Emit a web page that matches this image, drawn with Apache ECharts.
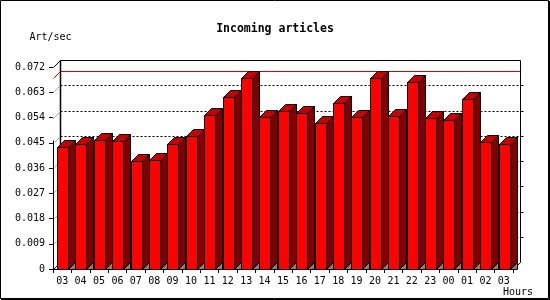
<!DOCTYPE html>
<html><head><meta charset="utf-8">
<script src="https://cdn.jsdelivr.net/npm/echarts@6/dist/echarts.min.js"></script>
<style>html,body{margin:0;padding:0;background:#fff}#c{width:550px;height:300px}</style>
</head><body><div id="c"></div>
<script>
// ---- data ----
const hours = ['03','04','05','06','07','08','09','10','11','12','13','14','15','16','17','18','19','20','21','22','23','00','01','02','03'];
const rates = [0.0434,0.0444,0.0459,0.0455,0.0384,0.0389,0.0444,0.0473,0.0548,0.0612,0.0680,0.0541,0.0562,0.0555,0.0519,0.0591,0.0541,0.0680,0.0544,0.0665,0.0537,0.0530,0.0605,0.0452,0.0444];
const yTicks = [0,0.009,0.018,0.027,0.036,0.045,0.054,0.063,0.072];
const titleText = 'Incoming articles';
const yName = 'Art/sec';
const xName = 'Hours';

// ---- style ----
const DX = 7, DY = 7;
const FONT = '"DejaVu Sans Mono", monospace';
const FRONT = '#ff0000', TOP = '#c40000', SIDE = '#800000', SHADOW = '#808080';

const chart = echarts.init(document.getElementById('c'), null, {renderer: 'canvas'});

function renderWalls(params, api) {
  const cs = params.coordSys;
  const x0 = Math.round(cs.x) + 0.5, x1 = Math.round(cs.x + cs.width) + 0.5;
  const yT = Math.round(cs.y) + 0.5, yB = Math.round(cs.y + cs.height) + 0.5;
  const ch = [];
  yTicks.forEach(function (v, k) {
    if (k === 0 || k === yTicks.length - 1) return;
    const y = Math.round(api.coord([0, v])[1]) + 0.5;
    ch.push({type: 'line', shape: {x1: x0 + DX, y1: y - DY, x2: x1 + DX, y2: y - DY},
      style: {stroke: '#000', lineWidth: 1, lineDash: [2, 2]}});
    ch.push({type: 'line', shape: {x1: x0, y1: y, x2: x0 + DX, y2: y - DY},
      style: {stroke: '#000', lineWidth: 1, lineDash: [1, 2]}});
    ch.push({type: 'line', shape: {x1: x1 + DX, y1: y - DY, x2: x1 + DX + 3, y2: y - DY},
      style: {stroke: '#000', lineWidth: 1}});
  });
  // max line
  const mx = Math.max.apply(null, rates);
  const ym = Math.round(api.coord([0, mx])[1]) + 0.5;
  ch.push({type: 'polyline', shape: {points: [[x0, ym], [x0 + DX, ym - DY], [x1 + DX, ym - DY]]},
    style: {stroke: '#e00000', lineWidth: 1, fill: null}});
  // frame
  ch.push({type: 'polyline', shape: {points: [[x0, yT], [x0 + DX, yT - DY], [x1 + DX, yT - DY], [x1 + DX, yB - DY], [x1, yB]]},
    style: {stroke: '#000', lineWidth: 1, fill: null}});
  ch.push({type: 'line', shape: {x1: x0 + DX, y1: yT - DY, x2: x0 + DX, y2: yB - DY},
    style: {stroke: '#000', lineWidth: 1.5}});
  ch.push({type: 'line', shape: {x1: x0, y1: yB, x2: x0 + DX, y2: yB - DY},
    style: {stroke: '#000', lineWidth: 1}});
  // front vertical edge up to the first bar's back top
  const y1st = Math.round(api.coord([0, rates[0]])[1]) + 0.5 - DY;
  ch.push({type: 'line', shape: {x1: x0, y1: yB, x2: x0, y2: y1st},
    style: {stroke: '#000', lineWidth: 1}});
  return {type: 'group', children: ch};
}

function renderBar(params, api) {
  const i = api.value(0), v = api.value(1);
  const pt = api.coord([i, v]);
  const base = api.coord([i, 0]);
  const bw = api.size([1, 0])[0];
  const xL = Math.round(pt[0] - bw / 2 + 4) + 0.5;
  const w = Math.round(bw * 0.6);
  const yt = Math.round(pt[1]) + 0.5;
  const yb = Math.round(base[1]) + 0.5;
  const xr = xL + w;
  const st = {stroke: '#000', lineWidth: 1};
  return {type: 'group', children: [
    {type: 'polygon', shape: {points: [[xr, yb], [xr + DX, yb - DY], [xr + DX, yb]]}, style: Object.assign({fill: SHADOW}, st)},
    {type: 'polygon', shape: {points: [[xr, yt], [xr + DX, yt - DY], [xr + DX, yb - DY], [xr, yb]]}, style: Object.assign({fill: SIDE}, st)},
    {type: 'polygon', shape: {points: [[xL, yt], [xL + DX, yt - DY], [xr + DX, yt - DY], [xr, yt]]}, style: Object.assign({fill: TOP}, st)},
    {type: 'rect', shape: {x: xL, y: yt, width: w, height: yb - yt}, style: Object.assign({fill: FRONT}, st)}
  ]};
}

chart.setOption({
  animation: false,
  backgroundColor: '#fff',
  title: {text: titleText, left: 'center', top: 18,
    textStyle: {fontFamily: FONT, fontSize: 11.5, fontWeight: 'bold', color: '#000'}},
  grid: {left: 53, right: 37, top: 67, bottom: 31},
  xAxis: {type: 'category', data: hours,
    axisLine: {lineStyle: {color: '#000', width: 1}},
    axisTick: {show: true, interval: 0, length: 4, lineStyle: {color: '#000'}},
    axisLabel: {interval: 0, margin: 7, fontFamily: FONT, fontSize: 10, color: '#000'},
    splitLine: {show: false}},
  yAxis: {type: 'value', min: 0, max: 0.072, interval: 0.009,
    name: yName, nameLocation: 'end', nameGap: 25,
    nameTextStyle: {fontFamily: FONT, fontSize: 10, color: '#000', padding: [0, 5, 0, 0]},
    axisLine: {show: false},
    axisTick: {show: true, length: 4, lineStyle: {color: '#000'}},
    axisLabel: {margin: 8, fontFamily: FONT, fontSize: 10, color: '#000',
      formatter: function (v) { return v === 0 ? '0' : v.toFixed(3); }},
    splitLine: {show: false}},
  graphic: [
    {type: 'rect', shape: {x: 0.5, y: 0.5, width: 548, height: 298}, style: {fill: null, stroke: '#000', lineWidth: 1}, z: 100},
    {type: 'rect', shape: {x: 549, y: 1, width: 1, height: 299}, style: {fill: '#000'}, z: 100},
    {type: 'rect', shape: {x: 1, y: 299, width: 549, height: 1}, style: {fill: '#000'}, z: 100},
    {type: 'text', right: 17, top: 287, style: {text: xName, font: '10px ' + FONT, fill: '#000'}}
  ],
  series: [
    {type: 'custom', renderItem: renderWalls, data: [[0, 0]], z: 1, silent: true},
    {type: 'custom', renderItem: renderBar, data: rates.map(function (v, i) { return [i, v]; }), z: 2,
      encode: {x: 0, y: 1}}
  ]
});
</script></body></html>
